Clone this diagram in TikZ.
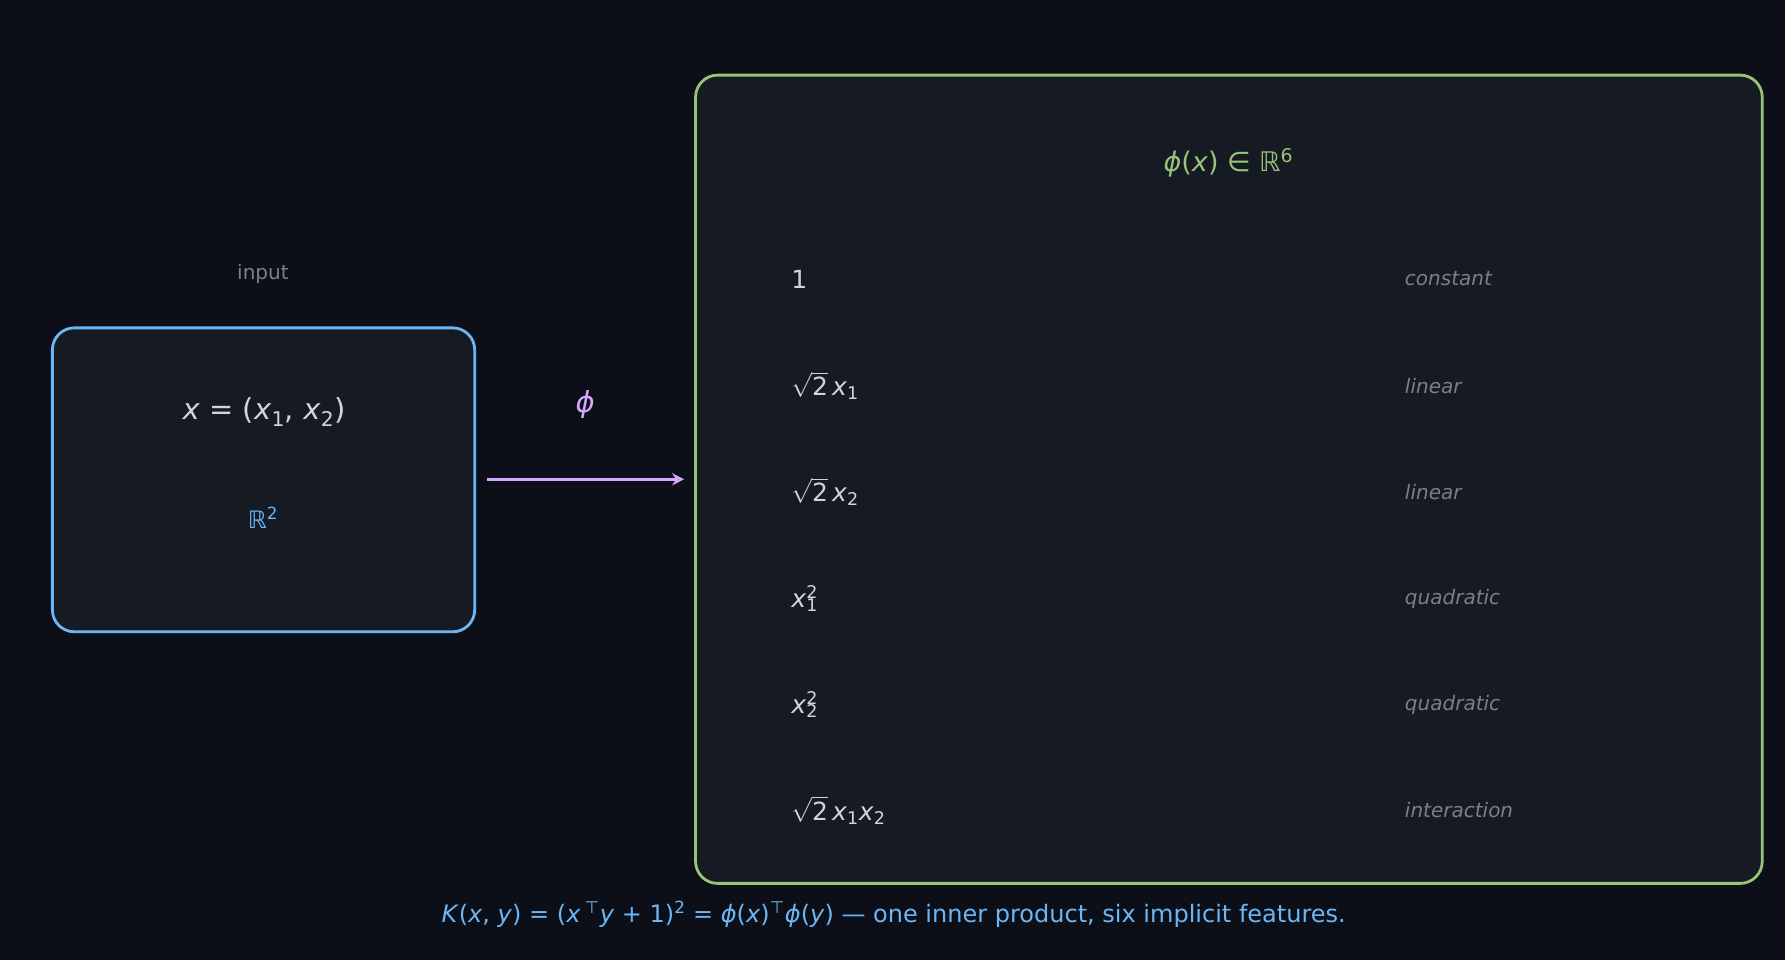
\documentclass[tikz,border=0pt]{standalone}
\usepackage{amsmath,amssymb}
\usepackage{fontspec}
\setmainfont{DejaVu Sans}
\usetikzlibrary{arrows.meta}
\definecolor{bg}{HTML}{0C0F17}
\definecolor{boxf}{HTML}{151A23}
\definecolor{cblue}{HTML}{6CB6F5}
\definecolor{cgreen}{HTML}{98C379}
\definecolor{cpurp}{HTML}{D7A6FF}
\definecolor{ctext}{HTML}{D0D4DC}
\definecolor{cgray}{HTML}{7A7F88}
\newcommand\vi[1]{\textit{#1}}
\newcommand\sbx[1]{\textsubscript{#1}}
\newcommand\spx[1]{\textsuperscript{#1}}
\newcommand\sqx[2]{\vi{#1}\rlap{\spx{2}}\sbx{#2}}
\newcommand\rtwo{$\sqrt{\text{2}}$\,}
\tikzset{
 panel/.style={rounded corners=22pt,line width=2.8pt,fill=boxf},
 feat/.style={anchor=west,inner sep=0pt,text=ctext,font=\fontsize{25}{30}\selectfont},
 kind/.style={anchor=west,inner sep=0pt,text=cgray,font=\fontsize{20}{24}\selectfont\itshape},
}
\begin{document}
\begin{tikzpicture}[x=1.1384pt,y=-1.1384pt]
\fill[bg] (0,0) rectangle (1568,843);
\useasboundingbox (0,0) rectangle (1568,843);
\draw[panel,draw=cblue] (46,288) rectangle (417,555);
\draw[panel,draw=cgreen] (611,66) rectangle (1548,776);
\node[text=cgray,font=\fontsize{20}{24}\selectfont] (inp) at (231,241) {input};
\node[text=ctext,font=\fontsize{29}{32}\selectfont] (xin) at (232,362) {\vi{x} = (\vi{x}\sbx{1}, \vi{x}\sbx{2})};
\node[text=cblue,font=\fontsize{24}{28}\selectfont] (r2) at (231,455) {ℝ\spx{2}};
\coordinate (a0) at (428,421); \coordinate (a1) at (601,421);
\draw[cpurp,line width=3.4pt,-{Stealth[length=12pt,width=12pt,open]}] (a0) -- (a1);
\node[text=cpurp,font=\fontsize{29}{32}\selectfont] (phi) at (514,355) {\vi{ϕ}};
\node[text=cgreen,font=\fontsize{27}{32}\selectfont] (ttl) at (1079,143) {\vi{ϕ}(\vi{x}) ∈ ℝ\spx{6}};
\node[feat] (f1) at (695,245) {1};
\node[feat] (f2) at (695,339) {\rtwo\vi{x}\sbx{1}};
\node[feat] (f3) at (695,432) {\rtwo\vi{x}\sbx{2}};
\node[feat] (f4) at (695,526) {\sqx{x}{1}};
\node[feat] (f5) at (695,619) {\sqx{x}{2}};
\node[feat] (f6) at (695,712) {\rtwo\vi{x}\sbx{1}\vi{x}\sbx{2}};
\node[kind] (k1) at (1234,245) {constant};
\node[kind] (k2) at (1234,339) {linear};
\node[kind] (k3) at (1234,432) {linear};
\node[kind] (k4) at (1234,526) {quadratic};
\node[kind] (k5) at (1234,619) {quadratic};
\node[kind] (k6) at (1234,712) {interaction};
\node[text=cblue,font=\fontsize{24}{28}\selectfont] (bot) at (785,803) {\vi{K}(\vi{x}, \vi{y}) = (\vi{x}\,\spx{⊤}\vi{y} + 1)\spx{2} = \vi{ϕ}(\vi{x})\spx{⊤}\vi{ϕ}(\vi{y}) — one inner product, six implicit features.};
\end{tikzpicture}
\end{document}
